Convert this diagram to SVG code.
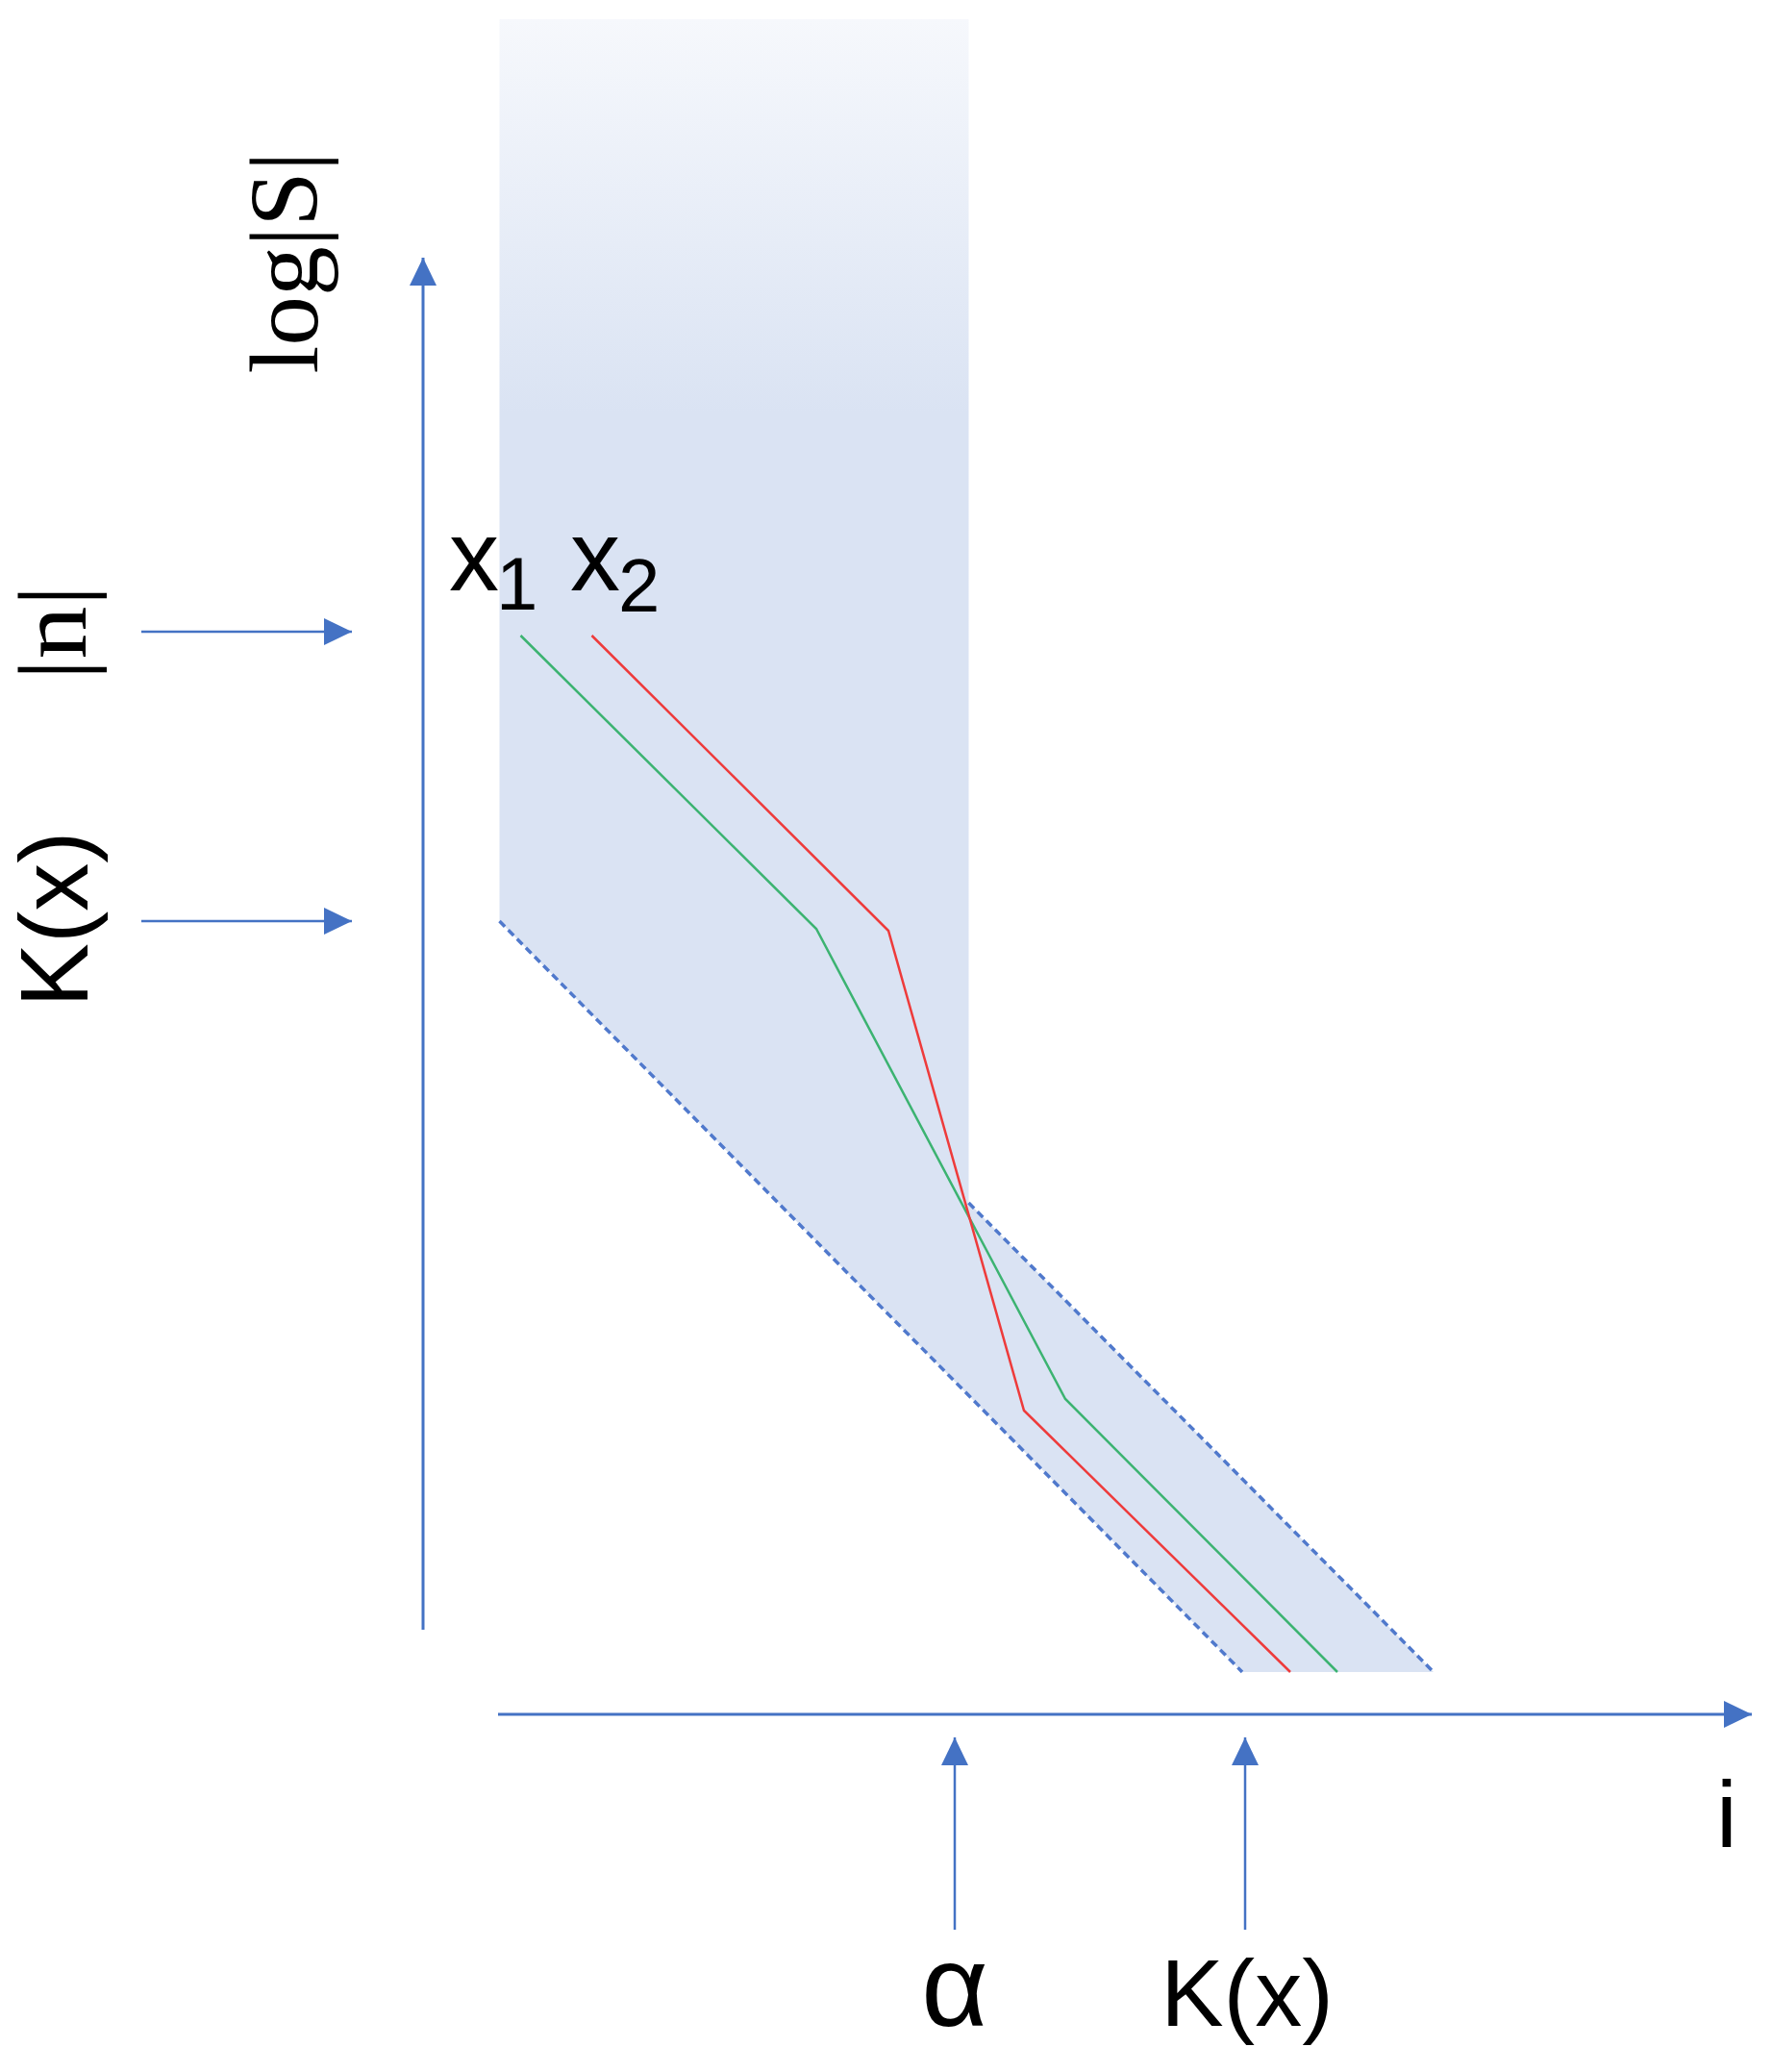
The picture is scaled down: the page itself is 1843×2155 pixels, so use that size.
<svg xmlns="http://www.w3.org/2000/svg" width="1843" height="2155" viewBox="0 0 1843 2155">
<defs>
<linearGradient id="shade" gradientUnits="userSpaceOnUse" x1="0" y1="20" x2="0" y2="430">
<stop offset="0" stop-color="#F6F8FC"/>
<stop offset="1" stop-color="#DAE3F3"/>
</linearGradient>
<marker id="ah" markerUnits="userSpaceOnUse" markerWidth="29" markerHeight="28" refX="29" refY="14" orient="auto" viewBox="0 0 29 28">
<path d="M0,0 L29,14 L0,28 Z" fill="#4472C4"/>
</marker>
<style>
.ax{stroke:#4472C4;stroke-width:3;fill:none}
.ar{stroke:#4472C4;stroke-width:2.5;fill:none}
.dash{stroke:#5079CC;stroke-width:3.5;stroke-dasharray:8 5;fill:none}
.serif{font-family:"Liberation Serif","DejaVu Serif",serif;fill:#000}
.sans{font-family:"Liberation Sans",Arial,sans-serif;fill:#000}
</style>
</defs>
<rect width="1843" height="2155" fill="#FFFFFF"/>
<g id="band">
<polygon points="519.5,20 1007.5,20 1007.5,1251 1491,1739 1292,1739 519.5,958" fill="url(#shade)"/>
<line class="dash" x1="519.5" y1="958" x2="1292" y2="1739"/>
<line class="dash" x1="1007.5" y1="1251" x2="1491" y2="1739"/>
</g>
<g id="connectors">
<line class="ax" x1="440" y1="1695" x2="440" y2="268" marker-end="url(#ah)"/>
<line class="ax" x1="518" y1="1783" x2="1822" y2="1783" marker-end="url(#ah)"/>
<line class="ar" x1="147" y1="657" x2="366" y2="657" marker-end="url(#ah)"/>
<line class="ar" x1="147" y1="958" x2="366" y2="958" marker-end="url(#ah)"/>
<line class="ar" x1="993" y1="2007" x2="993" y2="1807" marker-end="url(#ah)"/>
<line class="ar" x1="1295" y1="2007" x2="1295" y2="1807" marker-end="url(#ah)"/>
</g>
<g id="curve-x1">
<polyline points="541.5,661 849,966 1108,1455 1391,1739" fill="none" stroke="#3CB371" stroke-width="2.5"/>
</g>
<g id="curve-x2">
<polyline points="615.5,661 924,968 1065,1467 1342,1739" fill="none" stroke="#EE3B3B" stroke-width="2.5"/>
</g>
<g id="labels">
<text class="serif" font-size="102" text-anchor="middle" textLength="231" lengthAdjust="spacingAndGlyphs" transform="translate(330,273) rotate(-90)">log|S|</text>
<text class="serif" font-size="101" text-anchor="middle" textLength="99" lengthAdjust="spacingAndGlyphs" transform="translate(89,658) rotate(-90)">|n|</text>
<text class="sans" font-size="100" text-anchor="middle" transform="translate(91,956) rotate(-90)">K(x)</text>
<text class="sans" font-size="104" x="467" y="614">x<tspan font-size="78" x="516" y="634">1</tspan></text>
<text class="sans" font-size="104" x="593" y="614">x<tspan font-size="78" x="643" y="636">2</tspan></text>
<text class="sans" font-size="120" text-anchor="middle" x="993" y="2107">α</text>
<text class="sans" font-size="98" text-anchor="middle" x="1297" y="2107">K(x)</text>
<text class="sans" font-size="98" text-anchor="middle" x="1796" y="1921">i</text>
</g>
</svg>
